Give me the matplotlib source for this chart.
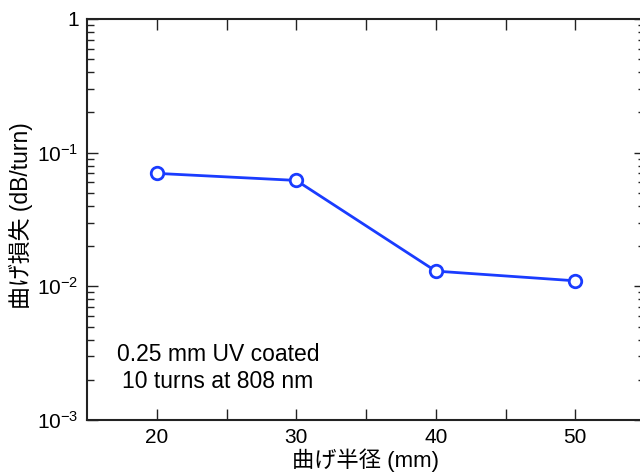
#!/usr/bin/env python3

import matplotlib
matplotlib.use("Agg")
import matplotlib.pyplot as plt
from matplotlib.ticker import FixedLocator, NullFormatter

plt.rcParams['font.family'] = ['Liberation Sans', 'Noto Sans CJK JP', 'DejaVu Sans']
plt.rcParams['mathtext.fontset'] = 'custom'
plt.rcParams['mathtext.rm'] = 'Liberation Sans'
plt.rcParams['mathtext.it'] = 'Liberation Sans:italic'

radius = [20, 30, 40, 50]
loss = [0.070, 0.062, 0.013, 0.011]
xtick_pos = [20, 25, 30, 35, 40, 45, 50]
xtick_labels = ["20", "", "30", "", "40", "", "50"]
ytick_pos = [1e-3, 1e-2, 1e-1, 1]
ytick_labels = [r"$10^{-3}$", r"$10^{-2}$", r"$10^{-1}$", "1"]


def plot_loss():
    fig = plt.figure(figsize=(6.4, 4.75), dpi=100)
    ax = fig.add_axes([87 / 640, 55 / 475, 558 / 640, 401 / 475])

    ax.plot(radius, loss, color="#1a3cff", lw=2, marker="o", ms=9,
            mfc="white", mec="#1a3cff", mew=2, clip_on=False)

    ax.set_yscale("log")
    ax.set_xlim(15, 55)
    ax.set_ylim(1e-3, 1)

    ax.set_xticks(xtick_pos)
    ax.set_xticklabels(xtick_labels)
    ax.yaxis.set_major_locator(FixedLocator(ytick_pos))
    ax.set_yticklabels(ytick_labels)
    minors = [m * 10.0 ** e for e in (-3, -2, -1) for m in range(2, 10)]
    ax.yaxis.set_minor_locator(FixedLocator(minors))
    ax.yaxis.set_minor_formatter(NullFormatter())

    ax.tick_params(which="both", direction="in", top=True, right=True,
                   labelsize=15, width=1, color="#222222")
    ax.tick_params(which="major", length=8, pad=6)
    ax.tick_params(which="minor", length=5)
    for s in ax.spines.values():
        s.set_linewidth(1.5)
        s.set_color("#222222")

    ax.set_xlabel("曲げ半径 (mm)", fontsize=16, labelpad=1)
    ax.set_ylabel("曲げ損失 (dB/turn)", fontsize=16.5)
    ax.yaxis.set_label_coords(-0.097, 0.51)

    fig.text(218 / 640, 1 - 368 / 475, "0.25 mm UV coated\n10 turns at 808 nm",
             ha="center", va="center", fontsize=16.5, linespacing=1.25)

    fig.savefig("out.png", dpi=100)


if __name__ == "__main__":
    plot_loss()
